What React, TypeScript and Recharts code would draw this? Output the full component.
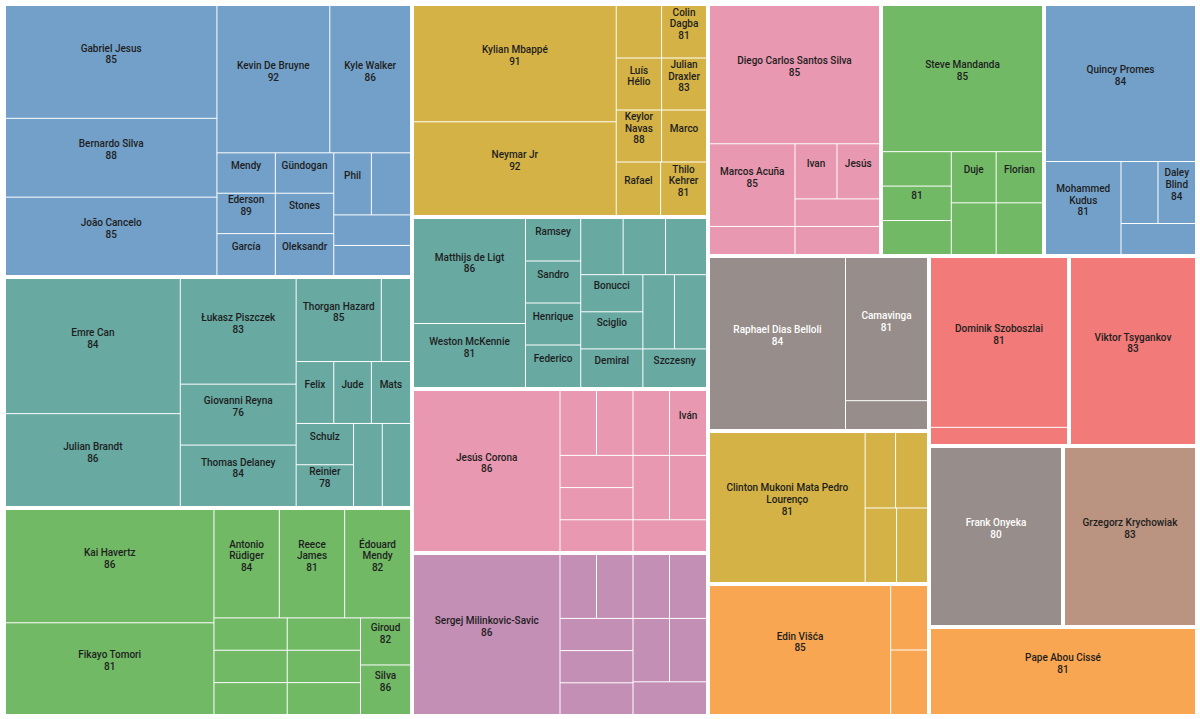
import React from 'react';
import { Treemap } from 'recharts';

// [shown name, size, rating shown in the box (null = not shown)]
type Player = [string, number, number | null];

const manCity: Player[] = [
  ['Gabriel Jesus', 10, 85],
  ['Bernardo Silva', 7, 88],
  ['João Cancelo', 7, 85],
  ['Kevin De Bruyne', 7, 92],
  ['Kyle Walker', 5, 86],
  ['Mendy', 1, null],
  ['Ederson', 1, 89],
  ['García', 1, null],
  ['Gündogan', 1, null],
  ['Stones', 1, null],
  ['Oleksandr', 1, null],
  ['Phil', 1, null],
  ['', 1, null],
  ['', 1, null],
  ['', 1, null],
];

const dortmund: Player[] = [
  ['Emre Can', 10, 84],
  ['Julian Brandt', 6.8, 86],
  ['Łukasz Piszczek', 5.2, 83],
  ['Giovanni Reyna', 3, 76],
  ['Thomas Delaney', 3, 84],
  ['Thorgan Hazard', 3, 85],
  ['', 1, null],
  ['Felix', 1, null],
  ['Jude', 1, null],
  ['Mats', 1, null],
  ['Schulz', 1, null],
  ['Reinier', 1, 78],
  ['', 1, null],
  ['', 1, null],
];

const chelsea: Player[] = [
  ['Kai Havertz', 10, 86],
  ['Fikayo Tomori', 8, 81],
  ['Antonio Rüdiger', 3, 84],
  ['Reece James', 3, 81],
  ['Édouard Mendy', 3, 82],
  ['', 1, null],
  ['', 1, null],
  ['', 1, null],
  ['', 1, null],
  ['', 1, null],
  ['', 1, null],
  ['Giroud', 1, 82],
  ['Silva', 1, 86],
];

const psg: Player[] = [
  ['Kylian Mbappé', 10, 91],
  ['Neymar Jr', 8, 92],
  ['', 1, null],
  ['Colin Dagba', 1, 81],
  ['Luís Hélio', 1, null],
  ['Julian Draxler', 1, 83],
  ['Keylor Navas', 1, 88],
  ['Marco', 1, null],
  ['Rafael', 1, null],
  ['Thilo Kehrer', 1, 81],
];

const juventus: Player[] = [
  ['Matthijs de Ligt', 5, 86],
  ['Weston McKennie', 3, 81],
  ['Ramsey', 1, null],
  ['Sandro', 1, null],
  ['Henrique', 1, null],
  ['Federico', 1, null],
  ['', 1, null],
  ['', 1, null],
  ['', 1, null],
  ['Bonucci', 1, null],
  ['Sciglio', 1, null],
  ['Demiral', 1, null],
  ['', 1, null],
  ['', 1, null],
  ['Szczesny', 1, null],
];

const porto: Player[] = [
  ['Jesús Corona', 10, 86],
  ['', 1, null],
  ['', 1, null],
  ['', 1, null],
  ['Iván', 1, null],
  ['', 1, null],
  ['', 1, null],
  ['', 1, null],
  ['', 1, null],
  ['', 1, null],
  ['', 1, null],
];

const lazio: Player[] = [
  ['Sergej Milinkovic-Savic', 10, 86],
  ['', 1, null],
  ['', 1, null],
  ['', 1, null],
  ['', 1, null],
  ['', 1, null],
  ['', 1, null],
  ['', 1, null],
  ['', 1, null],
  ['', 1, null],
  ['', 1, null],
];

const sevilla: Player[] = [
  ['Diego Carlos Santos Silva', 10, 85],
  ['Marcos Acuña', 3, 85],
  ['', 1, null],
  ['Ivan', 1, null],
  ['Jesús', 1, null],
  ['', 1, null],
  ['', 1, null],
];

const marseille: Player[] = [
  ['Steve Mandanda', 10, 85],
  ['', 1, null],
  ['', 1, 81],
  ['', 1, null],
  ['Duje', 1, null],
  ['Florian', 1, null],
  ['', 1, null],
  ['', 1, null],
];

const ajax: Player[] = [
  ['Quincy Promes', 10, 84],
  ['Mohammed Kudus', 3, 81],
  ['', 1, null],
  ['Daley Blind', 1, 84],
  ['', 1, null],
];

const rennes: Player[] = [
  ['Raphael Dias Belloli', 10, 84],
  ['Camavinga', 5, 81],
  ['', 1, null],
];

const brugge: Player[] = [
  ['Clinton Mukoni Mata Pedro Lourenço', 10, 81],
  ['', 1, null],
  ['', 1, null],
  ['', 1, null],
  ['', 1, null],
];

const basaksehir: Player[] = [
  ['Edin Višća', 10, 85],
  ['', 1, null],
  ['', 1, null],
];

const salzburg: Player[] = [
  ['Dominik Szoboszlai', 10, 81],
  ['', 1, null],
];

const dynamo: Player[] = [['Viktor Tsygankov', 10, 83]];
const midtjylland: Player[] = [['Frank Onyeka', 10, 80]];
const lokomotiv: Player[] = [['Grzegorz Krychowiak', 10, 83]];
const olympiacos: Player[] = [['Pape Abou Cissé', 10, 81]];

const clubs = [
  'Manchester City', 'Borussia Dortmund', 'Chelsea', 'Paris Saint-Germain', 'Juventus',
  'FC Porto', 'Lazio', 'Sevilla', 'Olympique de Marseille', 'Ajax', 'Stade Rennais',
  'Club Brugge', 'İstanbul Başakşehir', 'RB Salzburg', 'Dynamo Kyiv', 'FC Midtjylland',
  'Lokomotiv Moscow', 'Olympiacos',
];

const squads = [
  manCity, dortmund, chelsea, psg, juventus, porto, lazio, sevilla, marseille, ajax,
  rennes, brugge, basaksehir, salzburg, dynamo, midtjylland, lokomotiv, olympiacos,
];

const clubColors = [
  '#73a0c8', '#68a9a2', '#72b966', '#d4b246', '#68a9a2', '#e898b0', '#c48fb5', '#e898b0',
  '#72b966', '#73a0c8', '#978d8a', '#d4b246', '#f9a652', '#f27a78', '#f27a78', '#978d8a',
  '#ba9480', '#f9a652',
];

const labelColors = clubColors.map((c) => (c === '#978d8a' ? '#ffffff' : '#1e1e1e'));

const treeData = clubs.map((club, i) => ({
  name: club,
  club: i,
  children: squads[i].map(([name, size, rating]) => ({ name, size, rating, club: i })),
}));

const GAP = 2;
const LINE_H = 11.7;
const FONT = '500 10px Roboto';

let ctx: CanvasRenderingContext2D | null = null;
const textWidth = (s: string) => {
  if (!ctx) ctx = document.createElement('canvas').getContext('2d');
  if (!ctx) return s.length * 5.2;
  ctx.font = FONT;
  return ctx.measureText(s).width;
};

const wrap = (text: string, maxW: number) => {
  const lines: string[] = [];
  let cur = '';
  text.split(' ').forEach((w) => {
    const t = cur ? cur + ' ' + w : w;
    if (cur && textWidth(t) > maxW) {
      lines.push(cur);
      cur = w;
    } else {
      cur = t;
    }
  });
  if (cur) lines.push(cur);
  return lines;
};

const renderCell = (props: any) => {
  const { depth, x, y, width, height, root, name, rating, club } = props;
  if (depth !== 2 || !root) return <g />;

  // shrink each club block a little so clubs are separated by a wider gap
  const sx = (root.width - 2 * GAP) / root.width;
  const sy = (root.height - 2 * GAP) / root.height;
  let x0 = root.x + GAP + (x - root.x) * sx;
  let x1 = root.x + GAP + (x + width - root.x) * sx;
  let y0 = root.y + GAP + (y - root.y) * sy;
  let y1 = root.y + GAP + (y + height - root.y) * sy;
  if (x - root.x > 0.5) x0 += 0.5;
  if (root.x + root.width - (x + width) > 0.5) x1 -= 0.5;
  if (y - root.y > 0.5) y0 += 0.5;
  if (root.y + root.height - (y + height) > 0.5) y1 -= 0.5;

  const lines = name ? wrap(name, x1 - x0 - 6) : [];
  if (rating != null) lines.push(String(rating));
  const cx = (x0 + x1) / 2;
  const cy = (y0 + y1) / 2 - 8;

  return (
    <g>
      <rect x={x0} y={y0} width={x1 - x0} height={y1 - y0} fill={clubColors[club]} />
      {lines.length > 0 && (
        <text
          textAnchor="middle"
          fontFamily="Roboto, sans-serif"
          fontSize={10}
          fontWeight={500}
          fill={labelColors[club]}
        >
          {lines.map((l, i) => (
            <tspan key={i} x={cx} y={cy + (i - (lines.length - 1) / 2) * LINE_H + 3.6}>
              {l}
            </tspan>
          ))}
        </text>
      )}
    </g>
  );
};

export default function App() {
  return (
    <div style={{ position: 'absolute', left: 4, top: 4 }}>
      <Treemap
        width={1193}
        height={712}
        data={treeData}
        dataKey="size"
        isAnimationActive={false}
        content={renderCell}
      />
    </div>
  );
}
